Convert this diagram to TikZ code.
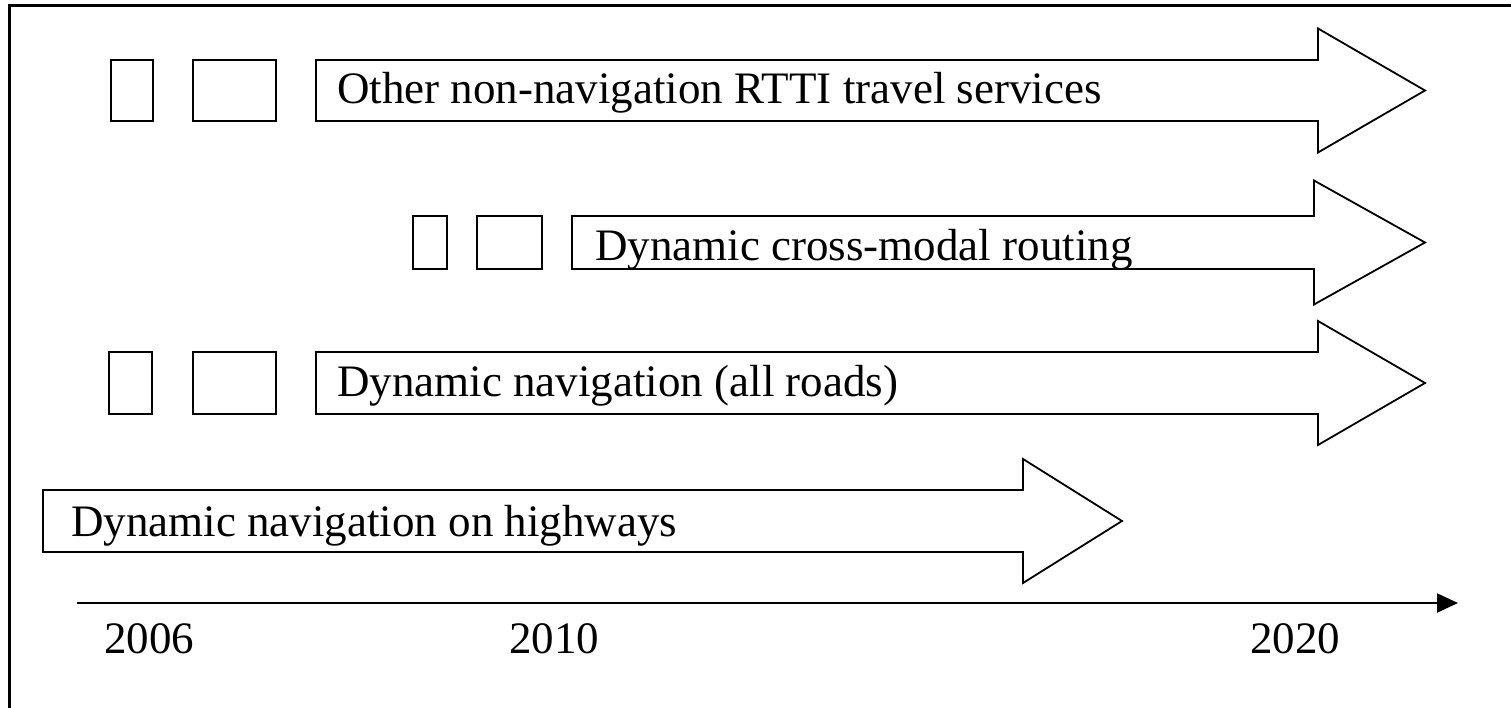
\documentclass[tikz,border=0pt]{standalone}
\usepackage{fontspec}
\setmainfont{Liberation Serif}
\usetikzlibrary{arrows.meta}

% #1 left x, #2 mid y, #3 half shaft, #4 head x, #5 tip x
\newcommand\roadarrow[5]{%
  \draw[bigarrow] (#1,#2-#3) -- (#4,#2-#3) -- (#4,#2-62) -- (#5,#2)
    -- (#4,#2+62) -- (#4,#2+#3) -- (#1,#2+#3) -- cycle;}

\begin{document}
\begin{tikzpicture}[x=1pt,y=-1pt,
  bigarrow/.style={draw=black, fill=white, line width=1.8pt, line join=miter},
  smallbox/.style={draw=black, line width=1.8pt},
  label/.style={anchor=base west, inner sep=0pt, font=\fontsize{45}{50}\selectfont},
  year/.style={anchor=base, inner sep=0pt, font=\fontsize{45}{50}\selectfont}]
\useasboundingbox (0,0) rectangle (1511,708);
\draw[line width=3pt] (9.5,708) -- (9.5,5.5) -- (1511,5.5);

\roadarrow{316}{90.5}{30.5}{1318}{1425}
\draw[smallbox] (111,60) rectangle (153,121);
\draw[smallbox] (193,60) rectangle (276,121);
\node[label] (other) at (337,104) {Other non-navigation RTTI travel services};

\roadarrow{572}{242.5}{26.5}{1314}{1425}
\draw[smallbox] (413,216) rectangle (447,269);
\draw[smallbox] (477,216) rectangle (542,269);
\begin{scope}
\clip (572,216) rectangle (1314,268);
\node[label] (crossmodal) at (595,261) {Dynamic cross-modal routing};
\end{scope}

\roadarrow{316}{383}{31}{1318}{1425}
\draw[smallbox] (109,352) rectangle (152,414);
\draw[smallbox] (193,352) rectangle (276,414);
\node[label] (allroads) at (337,396) {Dynamic navigation (all roads)};

\roadarrow{43}{521}{31}{1023}{1122}
\node[label] (highways) at (71,536) {Dynamic navigation on highways};

\coordinate (t0) at (77,603);
\coordinate (t1) at (1458,603);
\draw[line width=2pt, -{Triangle[length=21pt,width=19pt]}] (t0) -- (t1);
\node[year] (y2006) at (149,653) {2006};
\node[year] (y2010) at (554,653) {2010};
\node[year] (y2020) at (1295,653) {2020};
\end{tikzpicture}
\end{document}
